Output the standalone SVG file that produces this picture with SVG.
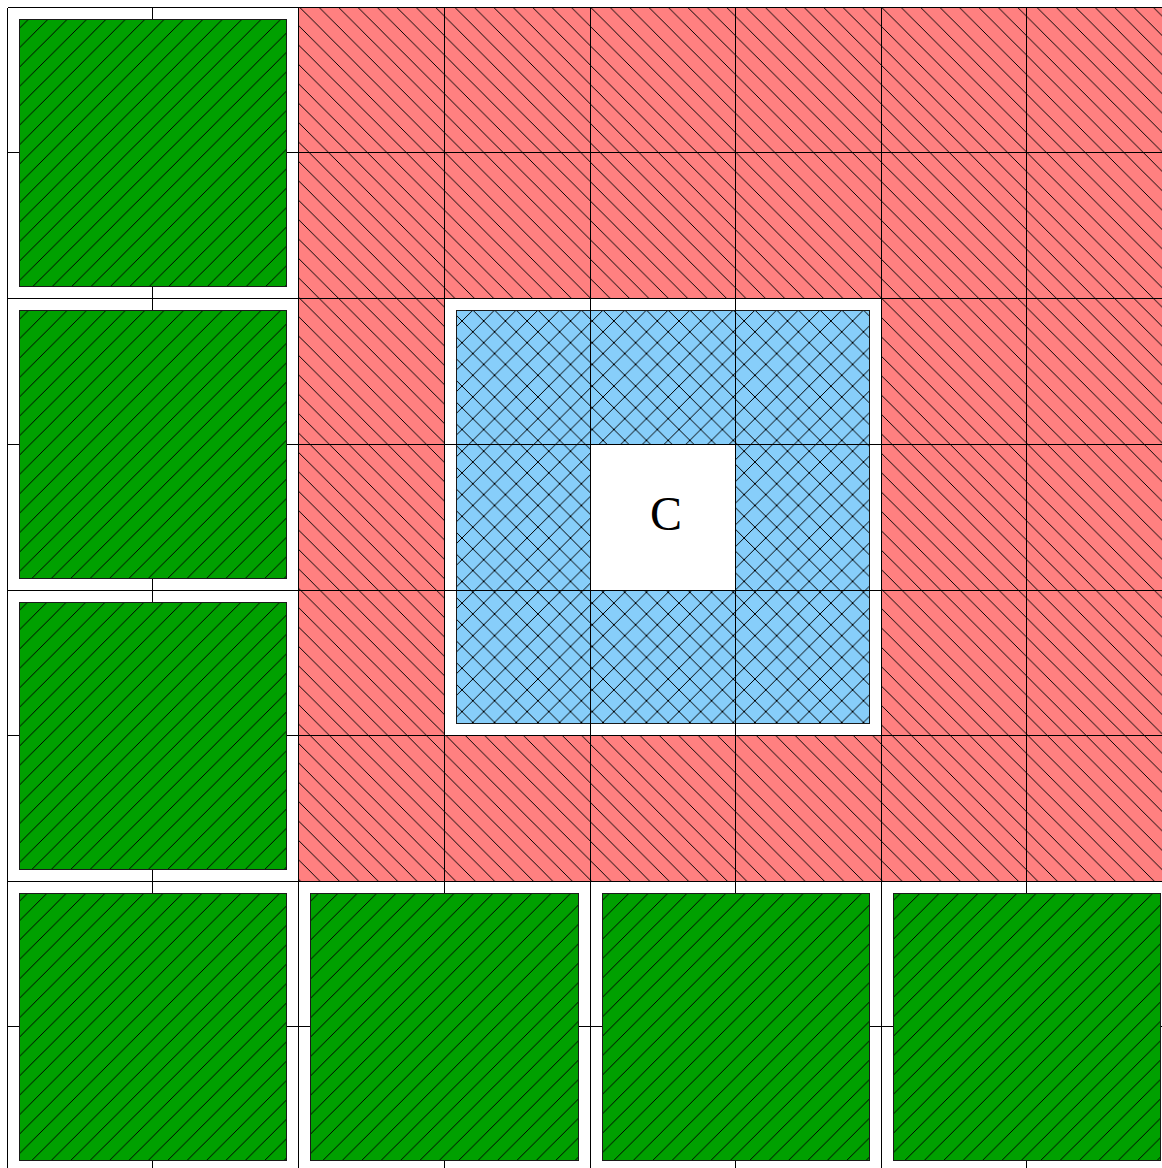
<svg xmlns="http://www.w3.org/2000/svg" width="1162" height="1168" viewBox="0 0 1162 1168">
<style>
.grid line{stroke:#000;stroke-width:1;shape-rendering:crispEdges}
.green{fill:url(#hg);stroke:#1a1a1a;stroke-width:1}
.blue{fill:url(#hb);stroke:#1a1a1a;stroke-width:1}
.hatch{stroke:#000;stroke-width:1;fill:none;shape-rendering:crispEdges}
.label{font-family:"Liberation Serif","Times New Roman",serif;font-size:48px;fill:#000}
</style>
<defs>
<pattern id="hg" patternUnits="userSpaceOnUse" x="9" y="0" width="19.4" height="19.4">
<rect width="19.4" height="19.4" fill="#00a000"/>
<path class="hatch" d="M0,19.4 L19.4,0 M-1,1 L1,-1 M18.4,20.4 L20.4,18.4"/>
</pattern>
<pattern id="hr" patternUnits="userSpaceOnUse" x="1.4" y="0" width="19.4" height="19.4">
<rect width="19.4" height="19.4" fill="#ff8080"/>
<path class="hatch" d="M0,0 L19.4,19.4 M-1,18.4 L1,20.4 M18.4,-1 L20.4,1"/>
</pattern>
<pattern id="hb" patternUnits="userSpaceOnUse" x="6.3" y="-4.5" width="21.7" height="21.7">
<rect width="21.7" height="21.7" fill="#87cefa"/>
<path class="hatch" d="M0,0 L21.7,21.7 M0,21.7 L21.7,0 M-1,20.7 L1,22.7 M20.7,-1 L22.7,1 M-1,1 L1,-1 M20.7,22.7 L22.7,20.7"/>
</pattern>
</defs>
<rect width="1162" height="1168" fill="#fff"/>
<g id="red-region">
<rect x="298.5" y="7.5" width="870" height="874" fill="url(#hr)"/>
</g>
<g id="blue-block">
<rect x="444.5" y="298.5" width="437" height="437" fill="#fff"/>
<rect class="blue" x="456.5" y="310.5" width="413" height="413"/>
</g>
<g id="center-cell">
<rect x="590.5" y="444.5" width="145" height="146" fill="#fff"/>
</g>
<g id="connectors" class="grid">
<line x1="7.5" y1="7.5" x2="7.5" y2="1168"/>
<line x1="152.5" y1="7.5" x2="152.5" y2="1168"/>
<line x1="298.5" y1="7.5" x2="298.5" y2="1168"/>
<line x1="444.5" y1="7.5" x2="444.5" y2="1168"/>
<line x1="590.5" y1="7.5" x2="590.5" y2="1168"/>
<line x1="735.5" y1="7.5" x2="735.5" y2="1168"/>
<line x1="881.5" y1="7.5" x2="881.5" y2="1168"/>
<line x1="1026.5" y1="7.5" x2="1026.5" y2="1168"/>
<line x1="7.5" y1="7.5" x2="1162" y2="7.5"/>
<line x1="7.5" y1="152.5" x2="1162" y2="152.5"/>
<line x1="7.5" y1="298.5" x2="1162" y2="298.5"/>
<line x1="7.5" y1="444.5" x2="1162" y2="444.5"/>
<line x1="7.5" y1="590.5" x2="1162" y2="590.5"/>
<line x1="7.5" y1="735.5" x2="1162" y2="735.5"/>
<line x1="7.5" y1="881.5" x2="1162" y2="881.5"/>
<line x1="7.5" y1="1026.5" x2="1162" y2="1026.5"/>
</g>
<g id="green-0"><rect class="green" x="19.5" y="19.5" width="267" height="267"/></g>
<g id="green-1"><rect class="green" x="19.5" y="310.5" width="267" height="268"/></g>
<g id="green-2"><rect class="green" x="19.5" y="602.5" width="267" height="267"/></g>
<g id="green-3"><rect class="green" x="19.5" y="893.5" width="267" height="267"/></g>
<g id="green-4"><rect class="green" x="310.5" y="893.5" width="268" height="267"/></g>
<g id="green-5"><rect class="green" x="602.5" y="893.5" width="267" height="267"/></g>
<g id="green-6"><rect class="green" x="893.5" y="893.5" width="267" height="267"/></g>
<g id="label-c"><text class="label" x="666" y="530" text-anchor="middle">C</text></g>
</svg>
